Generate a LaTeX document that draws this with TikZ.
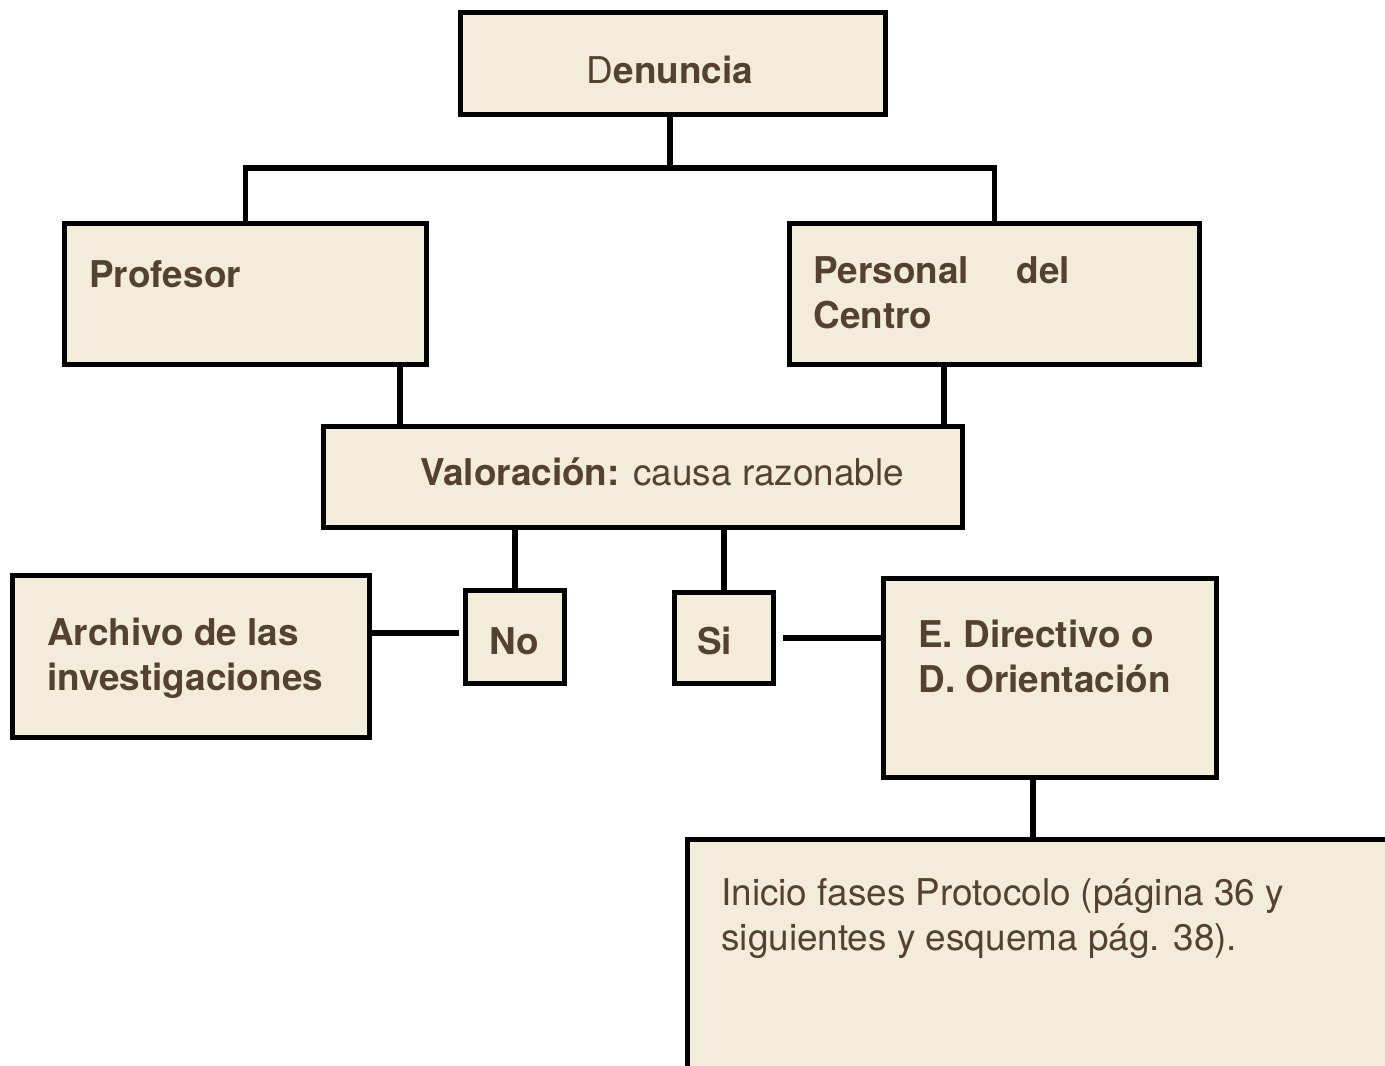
\documentclass[tikz,border=0pt]{standalone}
\usepackage{fontspec}
\setmainfont{TeX Gyre Heros}
\usepackage{tikz}

\definecolor{fondo}{HTML}{F4ECDB}
\definecolor{tinta}{HTML}{55412F}

\tikzset{
  caja/.style={draw=black, fill=fondo, line width=3.3pt, inner sep=0pt, outer sep=0pt},
  texto/.style={anchor=base west, inner sep=0pt, text=tinta, align=left,
    font=\fontsize{21}{25.6}\selectfont},
  linea/.style={draw=black, line width=3.3pt}
}

\begin{document}
\begin{tikzpicture}[x=0.02cm, y=-0.02cm]
\useasboundingbox (0,0) rectangle (1385,1065);
\clip (0,0) rectangle (1385,1065);

% Boxes
\node[caja, minimum width=8.5cm, minimum height=2.04cm] (den) at (673,63.5) {};
\node[caja, minimum width=7.24cm, minimum height=2.82cm] (prof) at (245.5,294) {};
\node[caja, minimum width=8.2cm, minimum height=2.82cm] (pers) at (994.5,294) {};
\node[caja, minimum width=12.78cm, minimum height=2.02cm] (val) at (643,477) {};
\node[caja, minimum width=7.14cm, minimum height=3.24cm] (arch) at (191,656.5) {};
\node[caja, minimum width=1.98cm, minimum height=1.86cm] (no) at (515,637) {};
\node[caja, minimum width=1.98cm, minimum height=1.82cm] (si) at (724,638) {};
\node[caja, minimum width=6.66cm, minimum height=3.98cm] (dir) at (1050,678) {};
\node[caja, minimum width=14.25cm, minimum height=4.81cm] (ini) at (1043.75,959.75) {};

% Texts (base = last line)
\node[texto, anchor=base] (tden) at (670,83) {D\textbf{enuncia}};
\node[texto] (tprof) at (89,287) {\textbf{Profesor}};
\node[texto] (tpers) at (813,328) {\textbf{Personal\hspace{0.95cm}del}\\\textbf{Centro}};
\node[texto] (tval) at (420,485) {\textbf{Valoración:} causa razonable};
\node[texto] (tarch) at (47,690) {\textbf{Archivo de las}\\\textbf{investigaciones}};
\node[texto] (tno) at (489,654) {\textbf{No}};
\node[texto] (tsi) at (697,654) {\textbf{Si}};
\node[texto] (tdir) at (918,692) {\textbf{E. Directivo o}\\\textbf{D. Orientación}};
\node[texto] (tini) at (721,950) {Inicio fases Protocolo (página 36 y\\siguientes y esquema pág. 38).};

% Connectors
\coordinate (bus) at (670,168);
\draw[linea] (den.south -| bus) -- (bus);
\draw[linea] (prof.north) |- (bus) -| (pers.north);
\draw[linea] (prof.south -| 400,0) -- (val.north -| 400,0);
\draw[linea] (pers.south -| 944,0) -- (val.north -| 944,0);
\draw[linea] (val.south -| no.north) -- (no.north);
\draw[linea] (val.south -| si.north) -- (si.north);
\draw[linea] ([yshift=0.08cm]arch.east |- no.west) -- ([xshift=-0.14cm,yshift=0.08cm]no.west);
\draw[linea] ([xshift=0.18cm]si.east) -- (dir.west |- si.east);
\draw[linea] (dir.south -| 1033,0) -- (ini.north -| 1033,0);
\end{tikzpicture}
\end{document}
